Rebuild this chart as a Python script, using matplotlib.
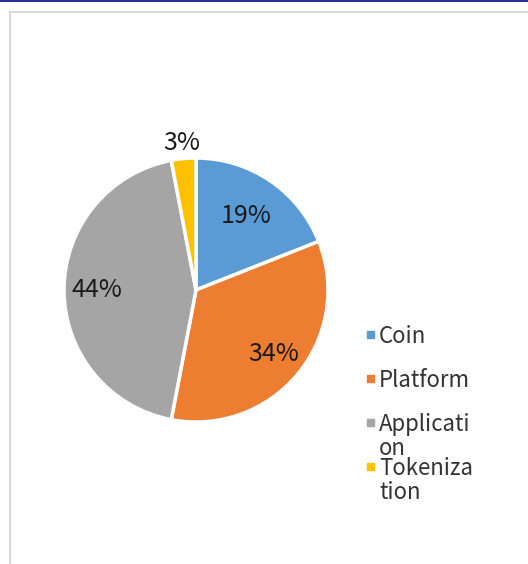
import matplotlib
matplotlib.use("Agg")
import matplotlib.pyplot as plt
import numpy as np
from matplotlib.lines import Line2D
from matplotlib.patches import Rectangle

plt.rcParams['font.family'] = ['Noto Sans CJK SC', 'DejaVu Sans']

# Share of projects by category
categories = ["Coin", "Platform", "Application", "Tokenization"]
legend_lines = [["Coin"], ["Platform"], ["Applicati", "on"], ["Tokeniza", "tion"]]
shares = [19, 34, 44, 3]
colors = ["#5B9BD5", "#ED7D31", "#A5A5A5", "#FFC000"]
label_dist = [0.68, 0.76, 0.75, 1.12]

W, H = 528, 564
fig = plt.figure(figsize=(W / 100, H / 100), dpi=100)
fig.patch.set_facecolor("white")

def fx(px):
    return px / W

def fy(py):
    return 1 - py / H

# page decorations: top rule and chart frame
fig.add_artist(Line2D([0, 1], [fy(0.5), fy(0.5)], color="#000080", lw=1.2,
                      transform=fig.transFigure))
fig.add_artist(Line2D([fx(9.5), 1], [fy(11.5), fy(11.5)], color="#d9d9d9", lw=1.5,
                      transform=fig.transFigure))
fig.add_artist(Line2D([fx(9.5), fx(9.5)], [fy(11.5), 0], color="#d9d9d9", lw=1.5,
                      transform=fig.transFigure))

# pie
cx, cy, r = 196, 290, 132
ax = fig.add_axes([fx(cx - r), fy(cy + r), 2 * r / W, 2 * r / H])
wedges, _ = ax.pie(shares, colors=colors, startangle=90, counterclock=False,
                   wedgeprops=dict(edgecolor="white", linewidth=2.5))
ax.set_xlim(-1, 1)
ax.set_ylim(-1, 1)
ax.set_aspect("auto")
ax.axis("off")

for w, v, d in zip(wedges, shares, label_dist):
    mid = np.deg2rad((w.theta1 + w.theta2) / 2)
    ax.text(d * np.cos(mid), d * np.sin(mid), f"{v}%", ha="center", va="center",
            fontsize=18, fontweight="light", color="#1a1a1a")

# legend
base_y = [343, 387, 431, 475]
for lines, col, by in zip(legend_lines, colors, base_y):
    fig.add_artist(Rectangle((fx(366.5), fy(by - 5)), 7 / W, 7 / H, color=col,
                             transform=fig.transFigure))
    for i, t in enumerate(lines):
        fig.text(fx(379), fy(by + 24 * i), t, ha="left", va="baseline",
                 fontsize=16, color="#333333")

fig.savefig("out.png", dpi=100, facecolor="white")
